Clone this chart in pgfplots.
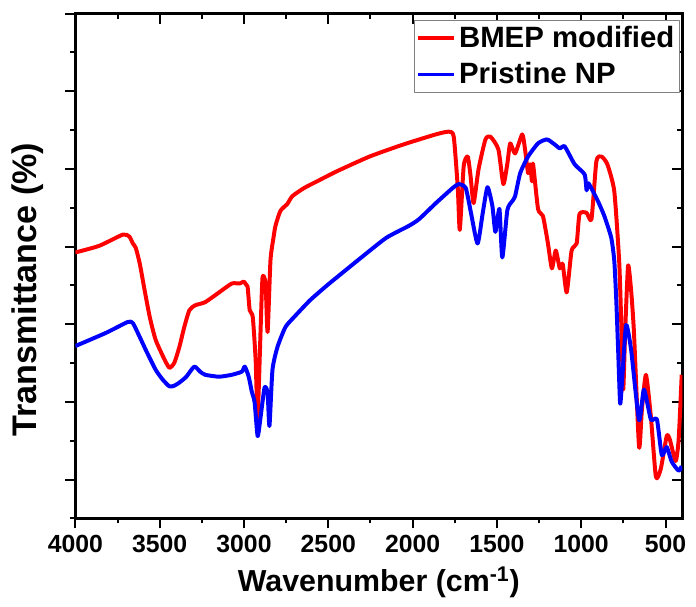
\documentclass[border=0pt]{standalone}
\usepackage{pgfplots}
\pgfplotsset{compat=1.18}
\usepackage{pgfplotstable}
\usepackage{fontspec}
\setmainfont{Liberation Sans}

% FTIR spectra: wavenumber (cm^-1) vs. transmittance (arb. scale)
\pgfplotstableread{
x y
4000 68.5
3859 70.2
3718 73.1
3680 72.6
3659 70.8
3642 69.7
3618 65.6
3589 58.7
3559 51.9
3524 46.0
3471 40.9
3442 38.8
3413 40.1
3383 44.2
3354 49.3
3324 53.6
3289 54.9
3230 55.7
3148 58.2
3072 60.5
3025 60.5
3001 61.0
2984 60.0
2978 59.5
2966 53.6
2948 51.9
2931 40.9
2919 26.1
2901 49.3
2890 62.1
2872 60.5
2860 48.0
2843 66.4
2825 72.3
2813 75.4
2784 79.2
2743 81.0
2713 83.0
2643 85.1
2567 86.8
2449 89.4
2255 93.2
2055 96.3
1862 98.9
1785 99.6
1756 98.3
1732 85.1
1720 74.3
1697 90.7
1673 93.2
1656 88.1
1638 81.2
1609 89.9
1568 97.6
1538 98.3
1491 95.0
1462 86.1
1438 91.4
1421 96.6
1392 94.0
1350 98.9
1333 95.0
1315 88.9
1303 91.2
1292 86.8
1286 91.4
1256 79.7
1227 77.9
1198 71.0
1174 64.4
1151 69.0
1127 64.4
1110 65.6
1086 58.2
1057 69.0
1027 70.8
1010 78.4
968 78.7
939 77.1
910 92.0
880 93.2
845 91.2
804 84.3
775 66.4
763 51.1
751 33.2
739 48.5
722 65.1
704 58.7
687 47.8
657 18.4
640 28.1
616 37.0
587 26.3
557 10.7
528 12.8
493 21.2
475 20.4
440 14.8
422 20.4
404 37.0
}\bmep

\pgfplotstableread{
x y
4000 44.4
3818 47.8
3689 50.6
3659 50.3
3618 46.7
3577 42.9
3524 38.3
3483 35.8
3442 34.0
3413 34.2
3383 35.0
3342 36.5
3295 39.1
3260 37.8
3230 37.0
3148 36.5
3072 37.0
3013 37.8
2995 39.1
2972 36.5
2954 32.7
2937 29.9
2919 21.2
2901 26.3
2878 33.7
2860 32.4
2849 23.8
2831 38.3
2801 44.2
2754 49.3
2702 51.9
2608 56.2
2508 60.0
2449 62.1
2290 67.7
2155 72.3
2020 75.4
1961 77.1
1862 81.2
1762 85.1
1726 86.1
1685 85.1
1656 79.2
1615 70.8
1585 78.4
1556 85.3
1527 80.5
1509 73.8
1485 79.7
1468 67.2
1438 79.4
1409 81.7
1392 83.0
1362 88.9
1315 93.2
1256 96.6
1203 97.6
1157 96.3
1127 95.3
1098 95.8
1039 91.2
980 88.6
968 84.5
957 86.3
904 82.0
863 77.9
822 72.3
804 66.4
792 56.2
781 43.4
769 29.6
757 35.8
734 49.8
704 43.4
657 25.3
628 33.2
587 25.5
551 25.5
522 16.3
493 18.4
463 14.6
422 12.3
404 13.5
}\pristine

\pgfplotsset{
  ftirframe/.style={
    width=306pt, height=254.5pt, scale only axis,
    x dir=reverse, xmin=400, xmax=4000, ymin=0, ymax=130,
    xtick={500,1000,...,4000}, minor xtick={750,1250,...,3750},
    ytick={10,30,...,130}, minor ytick={0,20,...,120},
    yticklabels={},
    axis line style={line width=1.5pt},
    major tick length=5pt, minor tick length=2.5pt,
    every tick/.style={black, line width=1pt},
  }
}

\begin{document}
\begin{tikzpicture}
\path (-38pt,-44.5pt) rectangle (310pt,260pt);
% mirrored ticks on top and right, pointing inward
\begin{axis}[ftirframe, tick align=inside, xtick pos=top, ytick pos=right,
  xticklabels={}, yticklabels={}]
\end{axis}
\begin{axis}[ftirframe, tick align=outside, xtick pos=bottom, ytick pos=left,
  /pgf/number format/assume math mode=true,
  /pgf/number format/1000 sep={},
  xticklabel style={font=\fontsize{12.5}{14}\selectfont\bfseries},
  xlabel={Wavenumber (cm\textsuperscript{-1})},
  ylabel={Transmittance (\%)},
  xlabel style={font=\fontsize{15.3}{18}\selectfont\bfseries},
  ylabel style={font=\fontsize{17.2}{20}\selectfont\bfseries,
    at={(axis description cs:-0.078,0.453)}, anchor=center},
  legend style={at={(rel axis cs:0.996,0.988)}, anchor=north east,
    draw=gray, line width=0.6pt, inner xsep=1pt, inner ysep=1.5pt,
    font=\fontsize{14.8}{17}\selectfont\bfseries,
    row sep=3pt,
    nodes={inner sep=1.5pt}},
  legend cell align=left,
  legend image code/.code={\draw[#1] (0pt,0pt) -- (18pt,0pt);},
  line join=round,
]
\addplot[red, line width=2pt, smooth, tension=0.35] table[x=x,y=y] {\bmep};
\addlegendentry{BMEP modified}
\addplot[blue, line width=2pt, smooth, tension=0.35] table[x=x,y=y] {\pristine};
\addlegendentry{Pristine NP}
\end{axis}
\end{tikzpicture}
\end{document}
